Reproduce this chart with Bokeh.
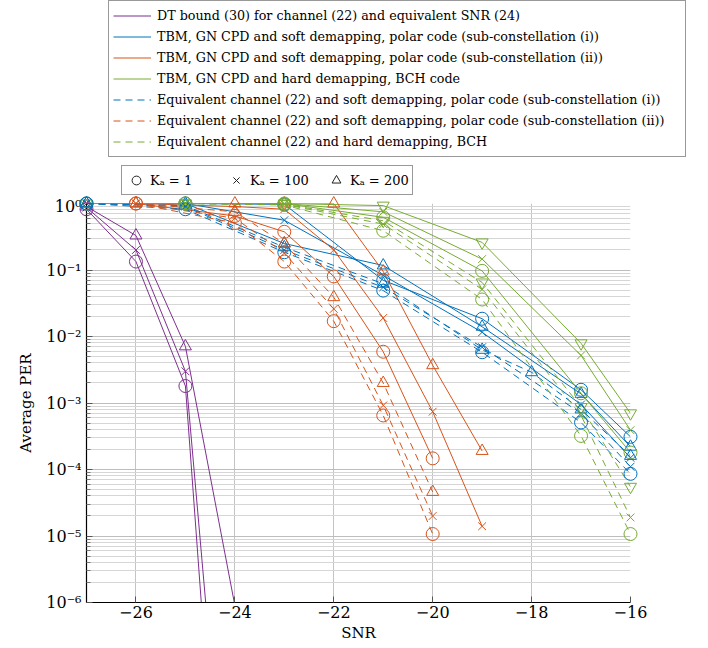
from bokeh.plotting import figure
from bokeh.models import (Range1d, FixedTicker, Legend, LegendItem,
                          CustomJSTickFormatter)
from bokeh.embed import file_html
from bokeh.resources import INLINE

# ---------------- data ----------------
x_ticks = [-26, -24, -22, -20, -18, -16]
x_tick_labels = ["−26", "−24", "−22", "−20", "−18", "−16"]
y_ticks = [1e-6, 1e-5, 1e-4, 1e-3, 1e-2, 1e-1, 1]

# DT bound (30)
snr_dt = [-27, -26, -25, -24]
dt_ka1 = [0.82, 0.134, 1.8e-3, 1.3e-13]
dt_ka100 = [0.87, 0.2, 3.0e-3, 1e-11]
dt_ka200 = [0.9, 0.33, 7.1e-3, 9e-7]

# TBM, soft demapping, polar, sub-constellation (i)
snr_tbm_i = [-27, -25, -23, -21, -19, -17, -16]
tbm_i_ka1 = [1.0, 1.0, 0.97, 0.07, 0.0185, 1.58e-3, 3.1e-4]
tbm_i_ka100 = [1.0, 1.0, 0.56, 0.083, 0.0116, 9.5e-4, 1.5e-4]
tbm_i_ka200 = [1.0, 1.0, 0.25, 0.117, 0.014, 1.37e-3, 2.2e-4]

# TBM, soft demapping, polar, sub-constellation (ii)
snr_tbm_ii = [-26, -24, -23, -22, -21, -20, -19]
tbm_ii_ka1 = [1.0, 0.65, 0.375, 0.08, 5.9e-3, 1.47e-4]
tbm_ii_ka100 = [1.0, 0.9, 0.82, 0.2, 0.019, 7.4e-4, 1.4e-5]
tbm_ii_ka200 = [1.0, 1.0, 1.0, 1.0, 0.095, 3.7e-3, 1.9e-4]

# TBM, hard demapping, BCH
snr_tbm_bch = [-27, -25, -23, -21, -19, -17, -16]
tbm_bch_ka1 = [1.0, 1.0, 1.0, 0.62, 0.097, 1.4e-3, 1.8e-4]
tbm_bch_ka100 = [1.0, 1.0, 1.0, 0.75, 0.146, 5.2e-3, 3.9e-4]
tbm_bch_ka200 = [1.0, 1.0, 1.0, 0.93, 0.26, 7.9e-3, 7.0e-4]

# Equivalent channel (22), soft demapping, polar, (i)
snr_eq_i = [-27, -25, -23, -21, -19, -17, -16]
snr_eq_i_ka200 = [-27, -25, -23, -21, -19, -18, -17, -16]
eq_i_ka1 = [1.0, 0.82, 0.185, 0.049, 5.8e-3, 5.1e-4, 8.6e-5]
eq_i_ka100 = [1.0, 0.9, 0.2, 0.055, 6.9e-3, 7.0e-4, 1.1e-4]
eq_i_ka200 = [1.0, 0.93, 0.22, 0.062, 6.3e-3, 2.9e-3, 8.0e-4, 1.6e-4]

# Equivalent channel (22), soft demapping, polar, (ii)
snr_eq_ii = [-26, -24, -23, -22, -21, -20]
eq_ii_ka1 = [1.0, 0.51, 0.134, 0.017, 6.5e-4, 1.07e-5]
eq_ii_ka100 = [1.0, 0.6, 0.18, 0.026, 9.2e-4, 2.0e-5]
eq_ii_ka200 = [1.0, 0.75, 0.25, 0.039, 2.0e-3, 4.6e-5]

# Equivalent channel (22), hard demapping, BCH
snr_eq_bch = [-25, -23, -21, -19, -17, -16]
eq_bch_ka1 = [1.0, 0.95, 0.39, 0.036, 3.2e-4, 1.07e-5]
eq_bch_ka100 = [1.0, 0.97, 0.49, 0.051, 6.5e-4, 1.9e-5]
eq_bch_ka200 = [1.0, 0.98, 0.55, 0.065, 8.7e-4, 5.5e-5]

legend_labels = [
    "DT bound (30) for channel (22) and equivalent SNR (24)",
    "TBM, GN CPD and soft demapping, polar code (sub-constellation (i))",
    "TBM, GN CPD and soft demapping, polar code (sub-constellation (ii))",
    "TBM, GN CPD and hard demapping, BCH code",
    "Equivalent channel (22) and soft demapping, polar code (sub-constellation (i))",
    "Equivalent channel (22) and soft demapping, polar code (sub-constellation (ii))",
    "Equivalent channel (22) and hard demapping, BCH",
]
ka_labels = ["Kₐ = 1", "Kₐ = 100", "Kₐ = 200"]

# ---------------- styling ----------------
FONT = "DejaVu Serif"
PURPLE = "#7E2F8E"
BLUE = "#0072BD"
ORANGE = "#D95319"
GREEN = "#77AC30"
DASH = "7 5"

W = 708
LEG_H = 196
MAIN_H = 648 - LEG_H

# ---------------- legend figure (own root, frame = whole figure) ----------------
lf = figure(width=W, height=LEG_H, x_range=Range1d(0, 1), y_range=Range1d(0, 1),
            output_backend="svg", toolbar_location=None,
            x_axis_location=None, y_axis_location=None,
            min_border=0, min_border_left=0, min_border_right=0,
            min_border_top=0, min_border_bottom=0)
lf.outline_line_color = None
lf.xgrid.visible = False
lf.ygrid.visible = False

# ---------------- main figure ----------------
p = figure(width=W, height=MAIN_H, y_axis_type="log",
           x_range=Range1d(-27, -16), y_range=Range1d(1e-6, 1),
           output_backend="svg", toolbar_location=None,
           min_border_top=7, min_border_left=86, min_border_right=78,
           min_border_bottom=46)
p.outline_line_color = None
p.background_fill_color = "white"

p.xaxis.ticker = FixedTicker(ticks=x_ticks, minor_ticks=[])
p.xaxis.major_label_overrides = {t: l for t, l in zip(x_ticks, x_tick_labels)}
minor = [m * 10.0 ** e for e in range(-6, 0) for m in range(2, 10)]
p.yaxis.ticker = FixedTicker(ticks=y_ticks, minor_ticks=minor)
p.yaxis.formatter = CustomJSTickFormatter(code="""
const e = Math.round(Math.log10(tick));
const sup = {'-':'⁻','0':'⁰','1':'¹','2':'²','3':'³','4':'⁴','5':'⁵','6':'⁶','7':'⁷','8':'⁸','9':'⁹'};
return '10' + String(e).split('').map(c => sup[c]).join('');
""")

for ax in (p.xaxis[0], p.yaxis[0]):
    ax.axis_line_color = "black"
    ax.axis_line_width = 1.2
    ax.major_tick_line_color = "#555555"
    ax.major_tick_in = 6
    ax.major_tick_out = 0
    ax.minor_tick_line_color = "#777777"
    ax.minor_tick_in = 4
    ax.minor_tick_out = 0
    ax.major_label_text_font = FONT
    ax.major_label_text_font_size = "16px"
    ax.major_label_text_color = "black"
    ax.axis_label_text_font = FONT
    ax.axis_label_text_font_size = "15px"
    ax.axis_label_text_font_style = "normal"
    ax.axis_label_text_color = "black"
p.xaxis.major_label_standoff = 3
p.xaxis.axis_label_standoff = 3
p.yaxis.major_label_standoff = 5
p.yaxis.axis_label_standoff = 8
p.xaxis.axis_label = "SNR"
p.yaxis.axis_label = "Average PER"

p.xgrid.grid_line_color = "#c4c4c4"
p.ygrid.grid_line_color = "#bdbdbd"
p.ygrid.minor_grid_line_color = "#d6d6d6"
p.xgrid.grid_line_width = 1
p.ygrid.grid_line_width = 1


def draw(xs, ys, color, marker, dash, size):
    n = min(len(xs), len(ys))
    xs, ys = xs[:n], ys[:n]
    p.line(xs, ys, line_color=color, line_width=1, line_dash=dash)
    mx = [x for x, y in zip(xs, ys) if y >= 1e-6]
    my = [y for y in ys if y >= 1e-6]
    p.scatter(mx, my, marker=marker, size=size, line_color=color,
              fill_color=None, line_width=1, level="overlay")


groups = [
    (snr_dt, [dt_ka1, dt_ka100, dt_ka200], PURPLE, "solid", "triangle"),
    (snr_tbm_i, [tbm_i_ka1, tbm_i_ka100, tbm_i_ka200], BLUE, "solid", "triangle"),
    (snr_tbm_ii, [tbm_ii_ka1, tbm_ii_ka100, tbm_ii_ka200], ORANGE, "solid", "triangle"),
    (snr_tbm_bch, [tbm_bch_ka1, tbm_bch_ka100, tbm_bch_ka200], GREEN, "solid", "inverted_triangle"),
    (snr_eq_i, [eq_i_ka1, eq_i_ka100, eq_i_ka200], BLUE, DASH, "triangle"),
    (snr_eq_ii, [eq_ii_ka1, eq_ii_ka100, eq_ii_ka200], ORANGE, DASH, "triangle"),
    (snr_eq_bch, [eq_bch_ka1, eq_bch_ka100, eq_bch_ka200], GREEN, DASH, "inverted_triangle"),
]

items = []
for gi, (xs, series, color, dash, tri) in enumerate(groups):
    draw(xs, series[0], color, "circle", dash, 13)
    draw(xs, series[1], color, "x", dash, 11)
    xs3 = snr_eq_i_ka200 if series[2] is eq_i_ka200 else xs
    draw(xs3, series[2], color, tri, dash, 12)
    # proxy lying outside the legend figure's ranges (never visible itself)
    proxy = lf.line([-5, -4], [-5, -4], line_color=color, line_width=1, line_dash=dash)
    items.append(LegendItem(label=legend_labels[gi], renderers=[proxy]))

L1_TOP, L1_H = 2, 155
leg1 = Legend(items=items, location=(108, LEG_H - L1_TOP - L1_H),
              orientation="vertical",
              label_text_font=FONT, label_text_font_size="12.7px",
              label_text_color="black",
              glyph_width=38, glyph_height=21, label_height=21,
              label_width=524,
              label_standoff=6, spacing=0, padding=4, margin=0,
              border_line_color="#333333", border_line_width=1,
              background_fill_color="white", background_fill_alpha=1)
lf.add_layout(leg1)

k1 = lf.scatter([-5], [-5], marker="circle", size=13, line_color="#222222", fill_color=None)
k2 = lf.scatter([-5], [-5], marker="x", size=11, line_color="#222222", fill_color=None)
k3 = lf.scatter([-5], [-5], marker="triangle", size=12, line_color="#222222", fill_color=None)
leg2 = Legend(items=[LegendItem(label=ka_labels[0], renderers=[k1]),
                     LegendItem(label=ka_labels[1], renderers=[k2]),
                     LegendItem(label=ka_labels[2], renderers=[k3])],
              location=(121, 1), orientation="horizontal",
              label_text_font=FONT, label_text_font_size="13px",
              label_text_color="black",
              glyph_width=22, glyph_height=22, label_height=22,
              label_width=59, label_standoff=3, spacing=16, padding=3, margin=0,
              border_line_color="#333333", border_line_width=1,
              background_fill_color="white", background_fill_alpha=1)
lf.add_layout(leg2)

open("out.html", "w").write(file_html([lf, p], INLINE))
